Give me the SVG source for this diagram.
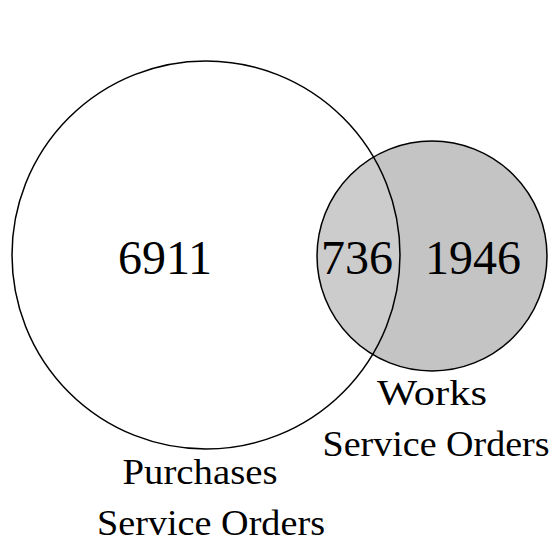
<svg xmlns="http://www.w3.org/2000/svg" width="560" height="560" viewBox="0 0 560 560">
<style>
.c{stroke:#000;stroke-width:1.5}
.num{font-family:"Liberation Serif","DejaVu Serif",serif;font-size:48px;text-anchor:middle;fill:#000}
.lbl{font-family:"Liberation Serif","DejaVu Serif",serif;font-size:36px;text-anchor:middle;fill:#000}
</style>
<defs>
<clipPath id="clipA"><circle cx="206" cy="255" r="194"/></clipPath>
</defs>
<rect width="560" height="560" fill="#fff"/>
<g id="works">
<circle cx="432" cy="256" r="115" fill="#c4c4c4"/>
</g>
<g id="intersection">
<circle cx="432" cy="256" r="115" fill="#cccccc" clip-path="url(#clipA)"/>
</g>
<g id="outlines">
<circle class="c" cx="206" cy="255" r="194" fill="none"/>
<circle class="c" cx="432" cy="256" r="115" fill="none"/>
</g>
<g id="labels">
<text class="num" x="165" y="274">6911</text>
<text class="num" x="357" y="274">736</text>
<text class="num" x="473" y="274">1946</text>
<text class="lbl" x="432" y="405" textLength="110" lengthAdjust="spacingAndGlyphs">Works</text>
<text class="lbl" x="436" y="456" textLength="227" lengthAdjust="spacingAndGlyphs">Service Orders</text>
<text class="lbl" x="200" y="484" textLength="155" lengthAdjust="spacingAndGlyphs">Purchases</text>
<text class="lbl" x="211" y="535" textLength="228" lengthAdjust="spacingAndGlyphs">Service Orders</text>
</g>
</svg>
